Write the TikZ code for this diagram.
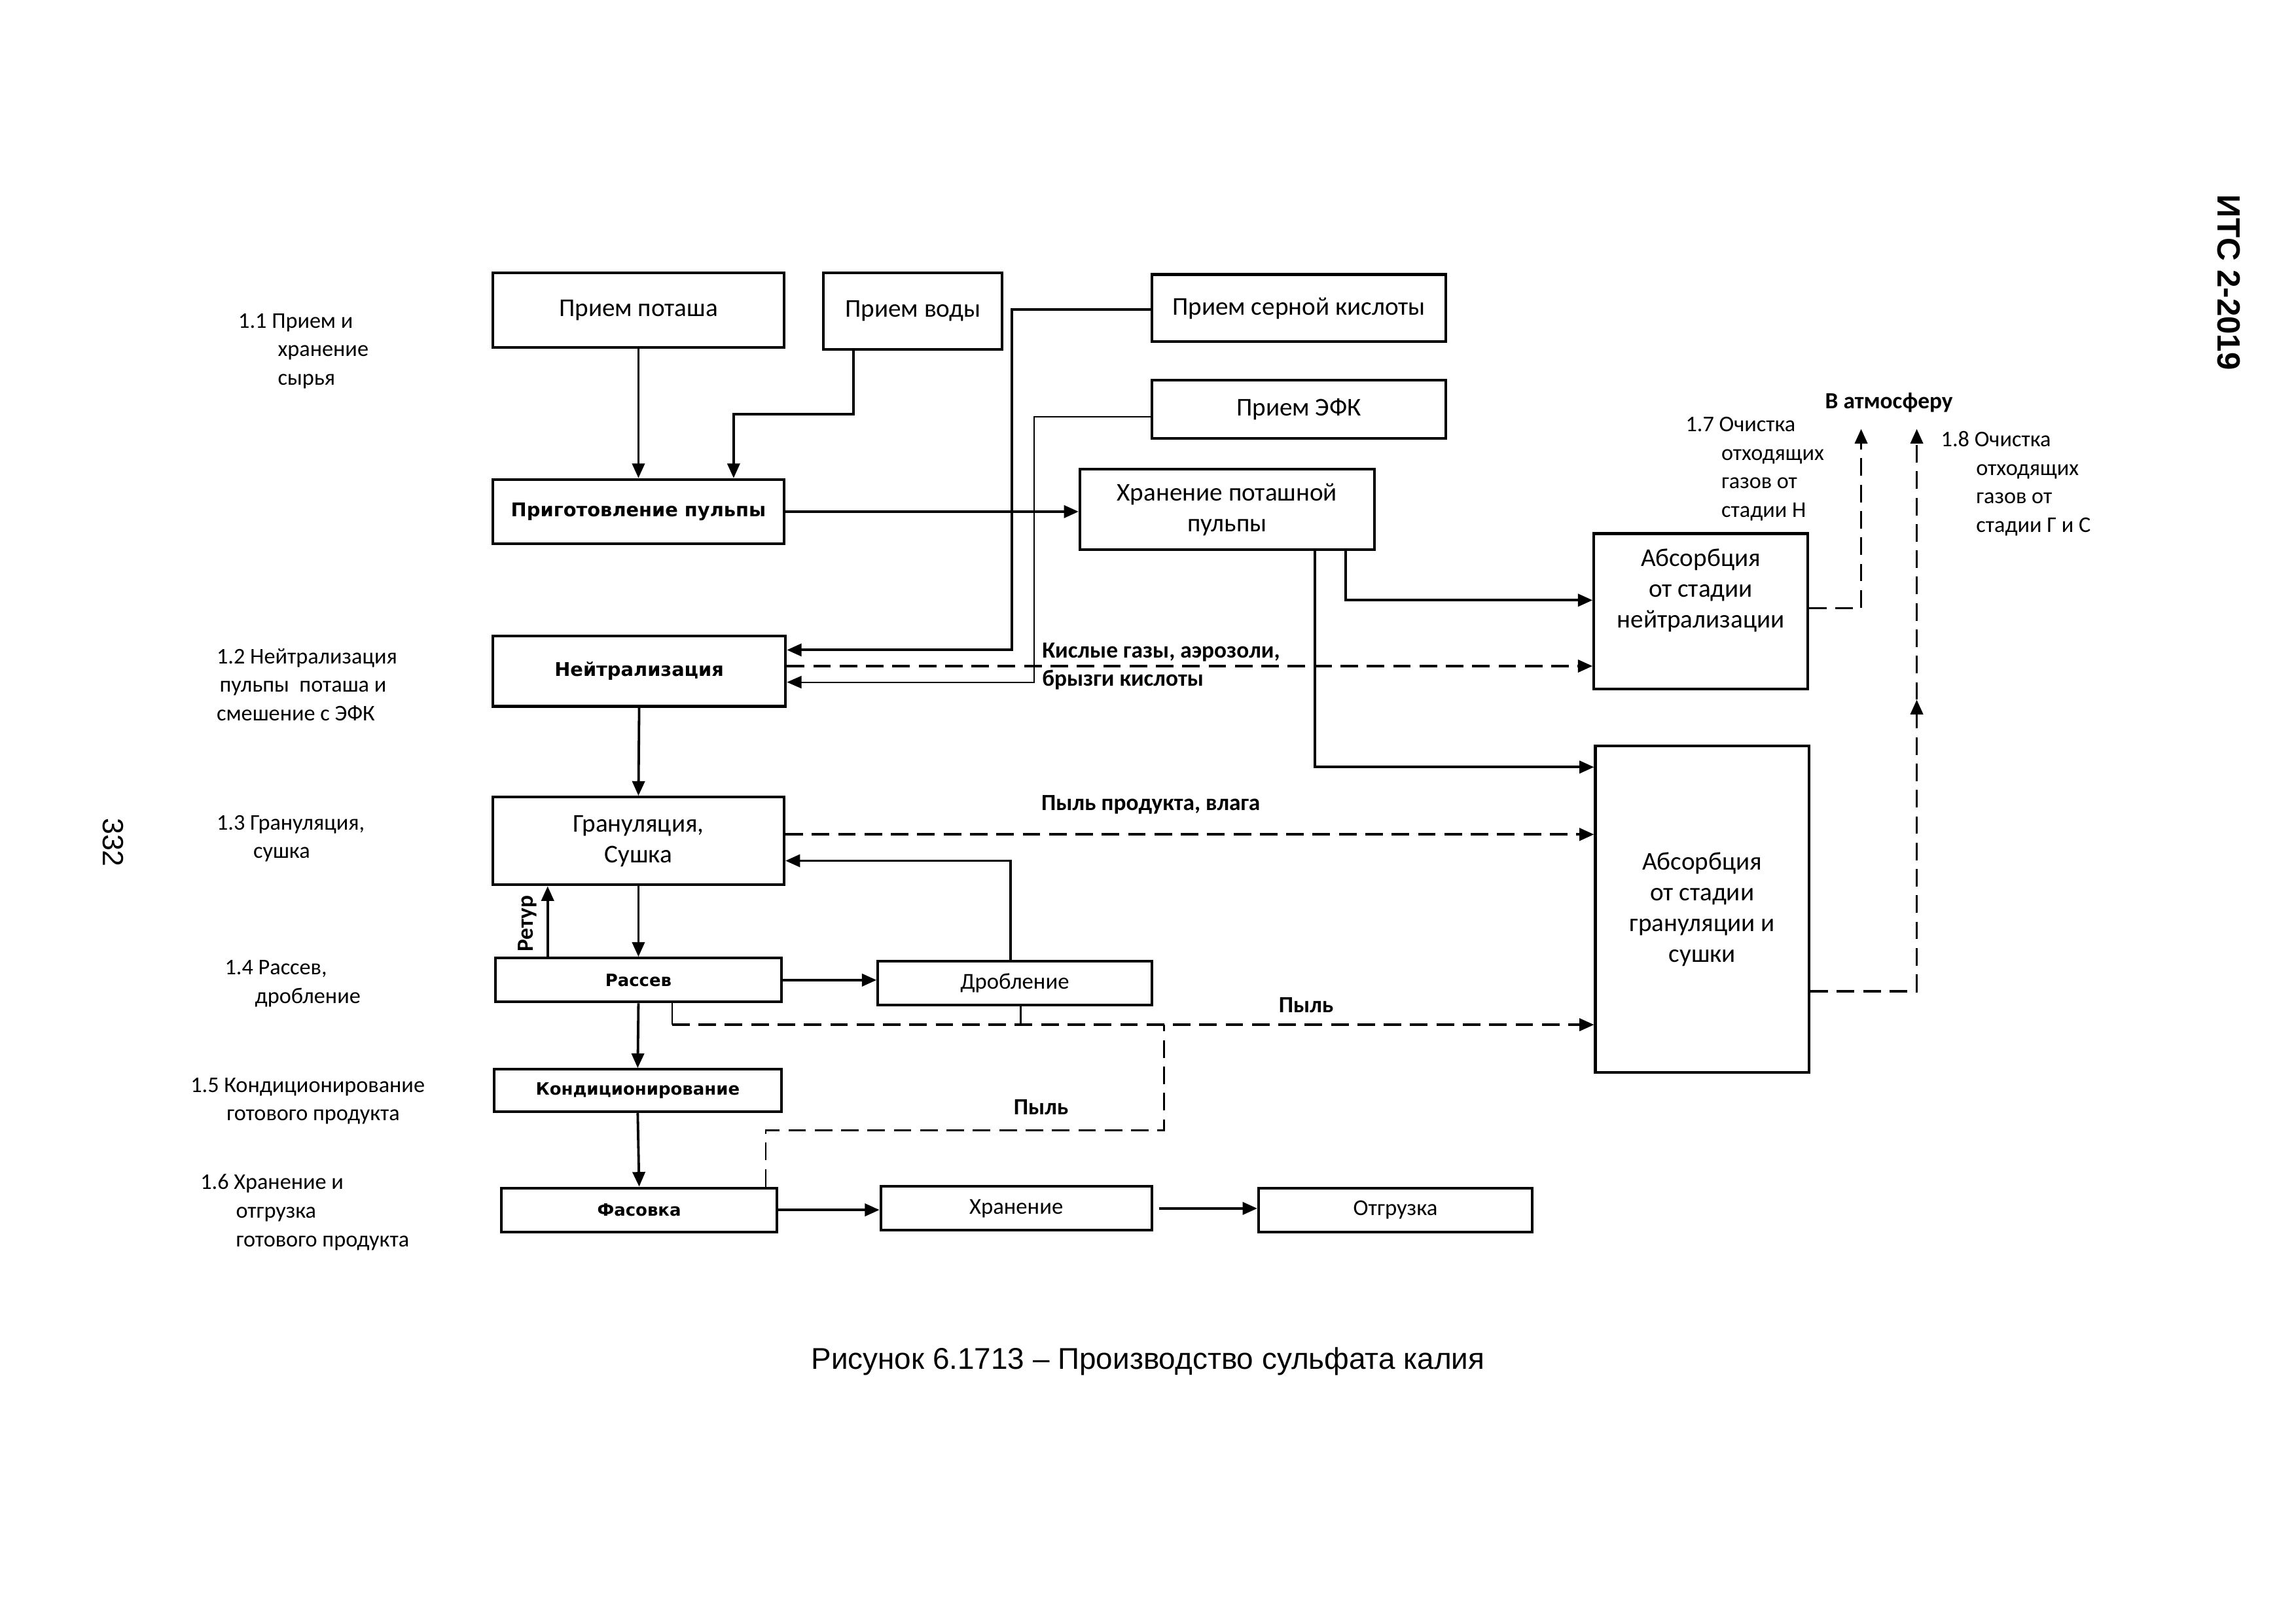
\documentclass[tikz,border=0pt]{standalone}
\usepackage{fontspec}
\setmainfont{Carlito}
\newfontfamily\tahfont{DejaVu Sans}
\newfontfamily\arialfont{Liberation Sans}
\usetikzlibrary{arrows.meta, positioning, calc}

\tikzset{
  box/.style={draw, line width=1.8pt, inner sep=0pt, align=center,
              font=\fontsize{17.5}{21}\selectfont},
  sbox/.style={box, font=\fontsize{15.5}{19}\selectfont},
  bbox/.style={box, font=\tahfont\bfseries\fontsize{12.9}{15}\selectfont},
  bsbox/.style={box, font=\tahfont\bfseries\fontsize{11.6}{14}\selectfont},
  arr/.style={line width=1.7pt, -{Triangle[length=10pt,width=8.5pt]}},
  tarr/.style={line width=0.9pt, -{Triangle[length=10pt,width=8.5pt]}},
  darr/.style={line width=1.7pt, dash pattern=on 12pt off 6pt,
               -{Triangle[length=10pt,width=8.5pt]}},
  dline/.style={line width=1.2pt, dash pattern=on 12pt off 6pt},
  flowlbl/.style={font=\bfseries\fontsize{15.8}{19}\selectfont, inner sep=0pt, align=left},
  stage/.style={font=\fontsize{15.3}{19.5}\selectfont, inner sep=0pt, align=left,
                anchor=north west},
}

\begin{document}
\begin{tikzpicture}[x=1pt, y=-1pt]
\useasboundingbox (0,0) rectangle (1568,1109);

% прием сырья
\node[box, minimum width=199pt, minimum height=51pt] (potash) at (436,212) {Прием поташа};
\node[box, minimum width=122pt, minimum height=52pt] (water) at (623.5,212.5) {Прием воды};
\node[box, minimum width=201pt, minimum height=46pt] (acid) at (887,210.5) {Прием серной кислоты};
\node[box, minimum width=201pt, minimum height=40pt] (efk) at (887,279.5) {Прием ЭФК};

% пульпа, нейтрализация
\node[bbox, minimum width=199pt, minimum height=44pt] (pulp) at (436,349.5) {Приготовление пульпы};
\node[box, minimum width=201pt, minimum height=55pt] (storage) at (838,348) {Хранение поташной\\пульпы};
\node[bbox, minimum width=200pt, minimum height=48pt] (neutr) at (436.5,458.5) {Нейтрализация};
\node[box, minimum width=146pt, minimum height=106pt] (absN) at (1161.5,417.5)
  {Абсорбция\\от стадии\\нейтрализации\\\rule[-10pt]{0pt}{0pt}};

% грануляция, рассев
\node[box, minimum width=199pt, minimum height=60pt] (gran) at (436,574.5) {Грануляция,\\Сушка};
\node[box, minimum width=146pt, minimum height=223pt] (absG) at (1162.5,621)
  {Абсорбция\\от стадии\\грануляции и\\сушки};
\node[bsbox, minimum width=195pt, minimum height=30pt] (sieve) at (436,669.5) {Рассев};
\node[sbox, minimum width=187pt, minimum height=30pt] (crush) at (693,671.5) {Дробление};
\node[bsbox, minimum width=196pt, minimum height=29pt] (cond) at (435.5,745) {Кондиционирование};

% отгрузка
\node[bsbox, minimum width=188pt, minimum height=30pt] (pack) at (436.5,826.5) {Фасовка};
\node[sbox, minimum width=185pt, minimum height=30pt] (store) at (694,825.5) {Хранение};
\node[sbox, minimum width=187pt, minimum height=30pt] (ship) at (953,826.5) {Отгрузка};

% точки изломов
\coordinate (wbend) at (501,283);
\coordinate (acidbend) at (691,444);
\coordinate (efkbend) at (706,466);
\coordinate (d1) at (459,700);
\coordinate (d2) at (795,772);
\coordinate (atm1) at (1271,293);
\coordinate (atm2) at (1309,293);
\coordinate (atm2m) at (1309,478);

% материальные потоки
\draw[arr] (potash.south) -- (pulp.north);
\draw[arr] ([xshift=-40.5pt]water.south) |- (wbend) -- (wbend |- pulp.north);
\draw[arr] (pulp.east) -- (pulp.east -| storage.west);
\draw[arr] ([yshift=-1pt]acid.west) -| (acidbend) -- (acidbend -| neutr.east);
\draw[tarr] ([yshift=-5pt]efk.west) -| (efkbend) -- (efkbend -| neutr.east);
\draw[arr] ([xshift=81pt]storage.south) |- ([yshift=7.5pt]absN.west);
\draw[arr] ([xshift=60pt]storage.south) |- ([yshift=97pt]absG.west);
\draw[arr] (neutr.south) -- (gran.north);
\draw[arr] (gran.south) -- (sieve.north);
\draw[arr] ([xshift=-3pt]crush.north) |- ([yshift=-13.5pt]gran.east);
\draw[arr] ([xshift=-62pt]sieve.north) -- ([xshift=-62pt]sieve.north |- gran.south);
\draw[arr] (sieve.east) -- (sieve.east -| crush.west);
\draw[arr] (sieve.south) -- (cond.north);
\draw[arr] (cond.south) -- (pack.north);
\draw[arr] (pack.east) -- (pack.east -| store.west);
\draw[arr] ([xshift=4pt]store.east) -- (store.east -| ship.west);

% газы и пыль
\draw[darr] ([yshift=3.5pt]neutr.east) coordinate (g1) -- (g1 -| absN.west);
\draw[darr] ([yshift=4.5pt]gran.east) coordinate (g2) -- (g2 -| absG.west);
\draw[line width=1.2pt] ([xshift=23pt]sieve.south) -- (d1);
\draw[line width=1.2pt] ([xshift=4pt]crush.south) -- ([xshift=4pt]crush.south |- d1);
\draw[darr] (d1) -- (d1 -| absG.west);
\draw[dline] ([xshift=86.5pt]pack.north) |- (d2) -- (d2 |- d1);
\draw[darr] ([yshift=2pt]absN.east) -| (atm1);
\draw[darr] ([yshift=-56pt]absG.east) -| (atm2m);
\draw[darr] (atm2m) -- (atm2);

% подписи потоков
\node[flowlbl, anchor=north west] (acidgas) at (711.5,439) {Кислые газы, аэрозоли,\\брызги кислоты};
\node[flowlbl, anchor=base west] (dustwet) at (711,553.5) {Пыль продукта, влага};
\node[flowlbl, anchor=base] (dust1) at (892,691.5) {Пыль};
\node[flowlbl, anchor=base] (dust2) at (711,761.5) {Пыль};
\node[flowlbl, anchor=base] (atm) at (1290,279) {В атмосферу};
\node[flowlbl, rotate=90] (retur) at (360,631) {Ретур};

% стадии
\node[stage] (st1) at (162.6,214) {1.1 Прием и\\\hspace*{27pt}хранение\\\hspace*{27pt}сырья};
\node[stage] (st2) at (147.8,442.7) {1.2 Нейтрализация\\\hspace*{2pt}пульпы\ \ поташа и\\смешение с ЭФК};
\node[stage] (st3) at (147.8,556.7) {1.3 Грануляция,\\\hspace*{25pt}сушка};
\node[stage] (st4) at (153.4,655.8) {1.4 Рассев,\\\hspace*{20.6pt}дробление};
\node[stage] (st5) at (130,736) {1.5 Кондиционирование\\\hspace*{24.6pt}готового продукта};
\node[stage] (st6) at (136.7,802) {1.6 Хранение и\\\hspace*{24.3pt}отгрузка\\\hspace*{24.3pt}готового продукта};
\node[stage] (st7) at (1151,284.7) {1.7 Очистка\\\hspace*{24.4pt}отходящих\\\hspace*{24.4pt}газов от\\\hspace*{24.4pt}стадии Н};
\node[stage] (st8) at (1325.4,294.5) {1.8 Очистка\\\hspace*{24pt}отходящих\\\hspace*{24pt}газов от\\\hspace*{24pt}стадии Г и С};

% подпись и колонтитулы
\node[font=\arialfont\fontsize{20.5}{24}\selectfont, inner sep=0pt] (caption) at (784,930)
  {Рисунок 6.1713 – Производство сульфата калия};
\node[font=\arialfont\bfseries\fontsize{22}{26}\selectfont, rotate=-90, inner sep=0pt] (header) at (1522,193)
  {ИТС 2-2019};
\node[font=\arialfont\fontsize{20}{24}\selectfont, rotate=-90, inner sep=0pt] (pageno) at (77.5,575.5)
  {332};
\end{tikzpicture}
\end{document}
